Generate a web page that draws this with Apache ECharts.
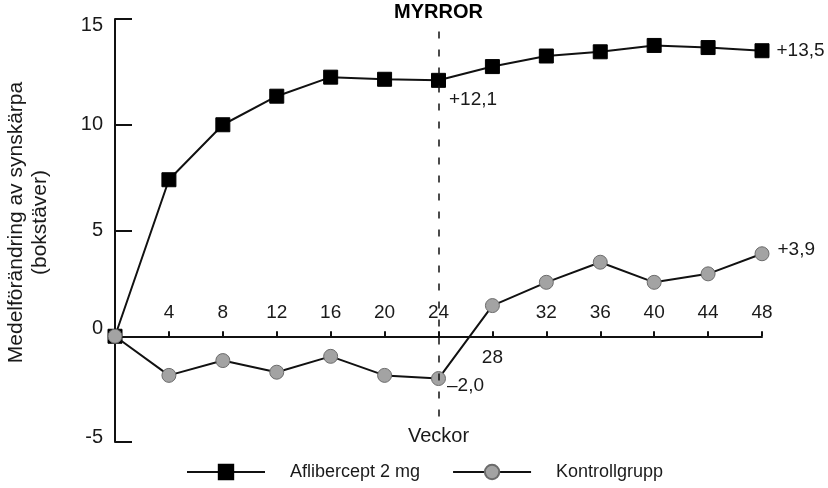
<!DOCTYPE html>
<html>
<head>
<meta charset="utf-8">
<script src="https://cdn.jsdelivr.net/npm/echarts@6/dist/echarts.min.js"></script>
<style>
  html, body { margin: 0; padding: 0; background: #fff; }
  #chart { width: 828px; height: 488px; }
</style>
</head>
<body>
<div id="chart"></div>
<script>
// veckor (x) och medelförändring i bokstäver (y)
const weeks = [0, 4, 8, 12, 16, 20, 24, 28, 32, 36, 40, 44, 48];
const aflibercept = [0, 7.4, 10.0, 11.35, 12.25, 12.15, 12.1, 12.75, 13.25, 13.45, 13.75, 13.65, 13.5];
const kontroll = [0, -1.85, -1.15, -1.7, -0.95, -1.85, -2.0, 1.45, 2.55, 3.5, 2.55, 2.95, 3.9];
const seriesNames = ['Aflibercept 2 mg', 'Kontrollgrupp'];
const yTicks = { min: -5, max: 15, step: 5 };
const xTicks = { min: 0, max: 48, step: 4 };
const switchWeek = 24;
const switchLabel = 'MYRROR';

const FONT = "'Liberation Sans', Arial, sans-serif";
const TXT = '#1a1a1a';
const FS = 19;

// plotytan; x-axeln ritas i ett eget grid vars underkant ligger vid y = 0
const PLOT = { left: 115, top: 19, width: 647, height: 423 };
const zeroHeight = PLOT.height * yTicks.max / (yTicks.max - yTicks.min);

function fmt(v) {
    const s = Math.abs(v).toFixed(1).replace('.', ',');
    return (v < 0 ? '\u2013' : '+') + s;
}

// bygger punkter, med etikett på vecka 24 och sista veckan
function buildData(values, labels) {
    return weeks.map((w, i) => {
        const item = { value: [w, values[i]] };
        if (labels[w]) {
            item.label = Object.assign({
                show: true,
                formatter: fmt(values[i]),
                fontFamily: FONT,
                fontSize: 19,
                color: TXT
            }, labels[w]);
        }
        return item;
    });
}

const xRange = { type: 'value', min: xTicks.min, max: xTicks.max, interval: xTicks.step };
const upperY = { type: 'value', min: 0, max: yTicks.max, show: false };

const chart = echarts.init(document.getElementById('chart'));

const option = {
    animation: false,
    textStyle: { fontFamily: FONT },
    grid: [
        Object.assign({ outerBoundsMode: 'none' }, PLOT),
        { outerBoundsMode: 'none', left: PLOT.left, top: PLOT.top, width: PLOT.width, height: zeroHeight },
        { outerBoundsMode: 'none', left: PLOT.left, top: PLOT.top, width: PLOT.width, height: zeroHeight }
    ],
    legend: {
        top: 463,
        left: 186,
        padding: 0,
        itemWidth: 78,
        itemHeight: 18,
        itemGap: 32,
        data: seriesNames,
        textStyle: { fontFamily: FONT, fontSize: 18, color: TXT, padding: [0, 0, 0, 20] }
    },
    xAxis: [
        Object.assign({ gridIndex: 0, show: false }, xRange),
        Object.assign({}, xRange, {
            gridIndex: 1,
            position: 'bottom',
            axisLine: { onZero: false, lineStyle: { color: '#111', width: 2 } },
            axisTick: { inside: true, length: 5, lineStyle: { color: '#111', width: 2 } },
            axisLabel: {
                inside: true,
                margin: 14,
                fontFamily: FONT,
                fontSize: FS,
                color: TXT,
                formatter: v => (v === 0 || v === 28) ? '' : String(v)
            },
            splitLine: { show: false }
        }),
        Object.assign({}, xRange, {
            // bara etiketten 28 under axeln, och axelnamnet
            gridIndex: 2,
            position: 'bottom',
            axisLine: { show: false, onZero: false },
            axisTick: { show: false },
            axisLabel: {
                margin: 12,
                fontFamily: FONT,
                fontSize: FS,
                color: TXT,
                formatter: v => v === 28 ? '28' : ''
            },
            splitLine: { show: false },
            name: 'Veckor',
            nameLocation: 'middle',
            nameGap: 90,
            nameTextStyle: { fontFamily: FONT, fontSize: 20, color: TXT }
        })
    ],
    yAxis: [
        {
            type: 'value',
            gridIndex: 0,
            min: yTicks.min,
            max: yTicks.max,
            interval: yTicks.step,
            axisLine: { show: true, onZero: false, lineStyle: { color: '#111', width: 2 } },
            axisTick: { inside: true, length: 17, lineStyle: { color: '#111', width: 2 } },
            axisLabel: {
                margin: 12,
                fontFamily: FONT,
                fontSize: 20,
                color: TXT,
                formatter: v => v === 0 ? '{up|0}' : v === 15 ? '{down|15}' : v === -5 ? '{up5|-5}' : String(v),
                rich: {
                    up: { fontFamily: FONT, fontSize: 20, color: TXT, padding: [0, 0, 16, 0] },
                    up5: { fontFamily: FONT, fontSize: 20, color: TXT, padding: [0, 0, 10, 0] },
                    down: { fontFamily: FONT, fontSize: 20, color: TXT, padding: [12, 0, 0, 0] }
                }
            },
            splitLine: { show: false },
            name: 'Medelförändring av synskärpa\n(bokstäver)',
            nameLocation: 'middle',
            nameGap: 63,
            nameTextStyle: { fontFamily: FONT, fontSize: 21, color: TXT, lineHeight: 24, padding: [0, 0, 0, 16] }
        },
        Object.assign({ gridIndex: 1 }, upperY),
        Object.assign({ gridIndex: 2 }, upperY)
    ],
    series: [
        {
            name: seriesNames[0],
            type: 'line',
            xAxisIndex: 0,
            yAxisIndex: 0,
            data: buildData(aflibercept, {
                24: { position: [18, 17], align: 'left', verticalAlign: 'top' },
                48: { position: 'right', distance: 7 }
            }),
            symbol: 'rect',
            symbolSize: 14,
            lineStyle: { color: '#111', width: 2 },
            itemStyle: { color: '#000', borderColor: '#000', borderWidth: 1 },
            z: 3,
            markLine: {
                silent: true,
                symbol: ['none', 'none'],
                lineStyle: { color: '#111', width: 1.5, type: [7, 11] },
                label: {
                    show: true,
                    position: 'end',
                    distance: 3,
                    formatter: switchLabel,
                    fontFamily: FONT,
                    fontSize: 20,
                    fontWeight: 'bold',
                    color: '#000'
                },
                data: [[{ coord: [switchWeek, -3.8] }, { coord: [switchWeek, 14.7] }]]
            }
        },
        {
            name: seriesNames[1],
            type: 'line',
            xAxisIndex: 0,
            yAxisIndex: 0,
            data: buildData(kontroll, {
                24: { position: [16, 15], align: 'left', verticalAlign: 'middle' },
                48: { position: 'right', distance: 8, offset: [0, -4] }
            }),
            symbol: 'circle',
            symbolSize: 14,
            lineStyle: { color: '#111', width: 2 },
            itemStyle: { color: '#a3a3a3', borderColor: '#6b6b6b', borderWidth: 1 },
            z: 4
        }
    ]
};

chart.setOption(option);
</script>
</body>
</html>
